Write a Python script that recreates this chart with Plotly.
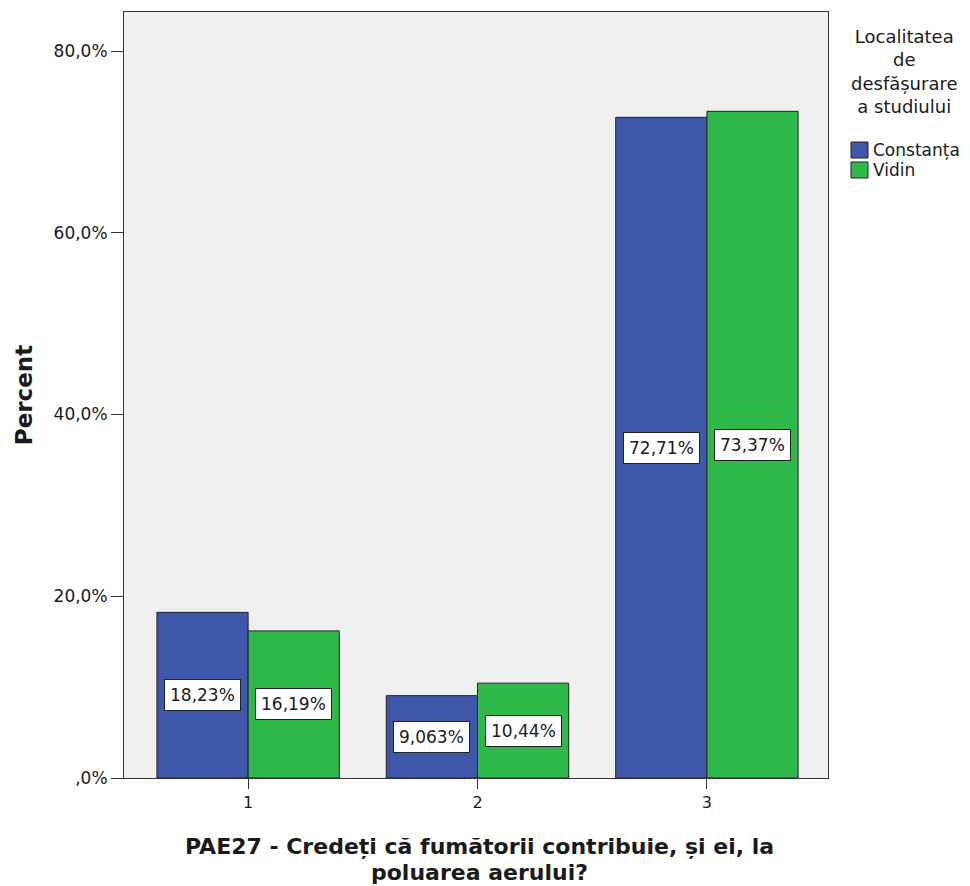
import plotly.graph_objects as go

categories = [1, 2, 3]
series_names = ["Constanța", "Vidin"]
constanta = [18.23, 9.063, 72.71]
vidin = [16.19, 10.44, 73.37]
constanta_labels = ["18,23%", "9,063%", "72,71%"]
vidin_labels = ["16,19%", "10,44%", "73,37%"]
y_ticks = [0, 20, 40, 60, 80]
y_tick_labels = [",0%", "20,0%", "40,0%", "60,0%", "80,0%"]
legend_title = "Localitatea<br>de<br>desfășurare<br>a studiului"
x_title_lines = ["PAE27 - Credeți că fumătorii contribuie, și ei, la", "poluarea aerului?"]
y_title = "Percent"

colors = ["#3e57ab", "#2fb94a"]
font_family = "DejaVu Sans, Liberation Sans, Arial, sans-serif"
txt = "#1a1a1a"

# layout geometry (page has an 8px body offset)
L, R, T, B = 116, 150, 4, 116
W, H = 970, 886
PW = W - L - R
PH = H - T - B


def px_x(px):
    return (px - 8 - L) / PW


def px_y(py):
    return (H - B + 8 - py) / PH


fig = go.Figure()
for name, vals, col in zip(series_names, [constanta, vidin], colors):
    fig.add_trace(go.Bar(
        x=categories, y=vals, name=name, showlegend=False,
        marker=dict(color=col, line=dict(color="#222222", width=1)),
    ))

bar_w = 0.795 / 2
annotations = []
for vals, labels, off in [(constanta, constanta_labels, -bar_w / 2), (vidin, vidin_labels, bar_w / 2)]:
    for c, v, t in zip(categories, vals, labels):
        annotations.append(dict(
            x=c + off, y=v / 2, xref="x", yref="y", text=t, showarrow=False,
            bgcolor="white", bordercolor="#222222", borderwidth=1, borderpad=5,
            font=dict(family=font_family, size=17, color=txt),
        ))

# x axis title (two lines, tight line spacing)
for line, ypx in zip(x_title_lines, [847, 872]):
    annotations.append(dict(
        x=px_x(479), y=px_y(ypx), xref="paper", yref="paper",
        xanchor="center", yanchor="middle", text="<b>" + line + "</b>", showarrow=False,
        font=dict(family=font_family, size=22, color=txt),
    ))

# legend title
annotations.append(dict(
    x=px_x(904), y=px_y(24), xref="paper", yref="paper", xanchor="center", yanchor="top",
    text=legend_title, showarrow=False, align="center",
    font=dict(family=font_family, size=18, color=txt),
))

# manual legend
shapes = []
sw_top = [142, 162]
for name, col, top in zip(series_names, colors, sw_top):
    shapes.append(dict(
        type="rect", xref="paper", yref="paper",
        x0=px_x(851), x1=px_x(868), y0=px_y(top + 16), y1=px_y(top),
        fillcolor=col, line=dict(color="#222222", width=1),
    ))
    annotations.append(dict(
        x=px_x(871), y=px_y(top + 8), xref="paper", yref="paper",
        xanchor="left", yanchor="middle", text=name, showarrow=False,
        font=dict(family=font_family, size=17, color=txt),
    ))

fig.update_layout(
    width=W, height=H,
    margin=dict(l=L, r=R, t=T, b=B, autoexpand=False),
    paper_bgcolor="white", plot_bgcolor="#f0f0f0",
    barmode="group", bargap=0.205, bargroupgap=0,
    font=dict(family=font_family, size=17, color=txt),
    showlegend=False,
    annotations=annotations,
    shapes=shapes,
    xaxis=dict(
        range=[0.459, 3.528], tickvals=categories, ticktext=[str(c) for c in categories],
        ticks="outside", ticklen=10, tickcolor="#333333", tickwidth=1,
        showline=True, linecolor="#333333", linewidth=1, mirror=True,
        showgrid=False, zeroline=False,
        tickfont=dict(family=font_family, size=16, color=txt),
    ),
    yaxis=dict(
        range=[0, 84.3], tickvals=y_ticks, ticktext=y_tick_labels,
        ticks="outside", ticklen=12, tickcolor="#333333", tickwidth=1,
        showline=True, linecolor="#333333", linewidth=1, mirror=True,
        showgrid=False, zeroline=False,
        tickfont=dict(family=font_family, size=17, color=txt),
        title=dict(text="<b>" + y_title + "</b>",
                   font=dict(family=font_family, size=23, color=txt), standoff=14),
    ),
)

fig.write_html("out.html")
